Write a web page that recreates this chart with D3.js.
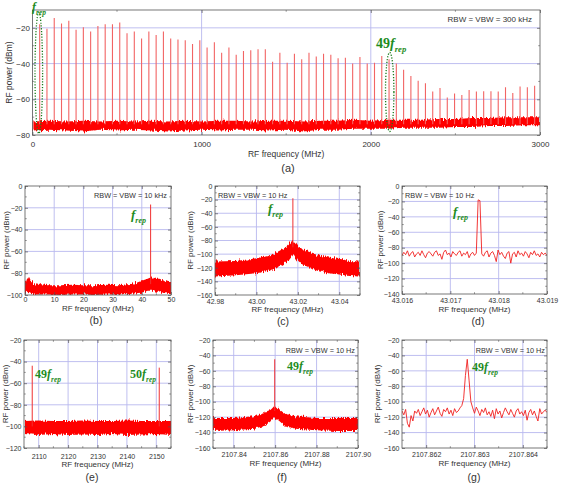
<!DOCTYPE html>
<html>
<head>
<meta charset="utf-8">
<script src="https://cdn.jsdelivr.net/npm/d3@7"></script>
<style>
body { margin: 0; background: #fff; }
text { font-family: "Liberation Sans", Arial, sans-serif; fill: #333; }
</style>
</head>
<body>
<div id="fig"></div>
<script>
/***** data *****/
var fRep = 43.0176; // MHz

// (a) harmonic peak levels, n = 1..69 (dBm)
var aPeaks = [-18, -20.5, -14.5, -17.6, -16, -21, -19.6, -22, -19, -18,
  -18, -17, -23, -22, -26, -22, -24, -22, -26, -26.5,
  -27, -29, -27, -31, -28, -34, -31, -35, -33, -32.5,
  -32, -32, -39, -34, -39.5, -34.5, -37.6, -34, -36, -34.5,
  -35, -37, -36.7, -40, -36.3, -40, -39.5, -35.7, -37.6, -40,
  -43.5, -47, -49.6, -51, -55.7, -53.7, -59, -56.7, -57.6, -54.8,
  -55.7, -55.5, -55.5, -55.7, -53.3, -56.5, -52.8, -53.3, -52.4];
var aNoiseF = [0, 100, 200, 300, 400, 500, 600, 700, 800, 900, 1000, 1100, 1200, 1300, 1400, 1500,
  1600, 1700, 1800, 1900, 2000, 2100, 2200, 2300, 2400, 2500, 2600, 2700, 2800, 2900, 3000];
var aNoiseHi = [-72.5, -72, -72.5, -72, -72.5, -72, -72.5, -72, -72.5, -72, -72.5, -72, -72, -72.5, -72, -72,
  -72.5, -72, -72, -71.5, -72, -71.5, -71.5, -71.5, -71, -71, -70.5, -70.5, -70, -70, -70];
var aNoiseLo = [-77.5, -77, -77.5, -78, -77, -77.5, -77, -77.5, -78, -77.5, -77, -77.5, -77, -77, -77.5, -77,
  -78, -77, -77, -76.5, -76.5, -76.5, -76, -76, -76, -75.5, -75.5, -75, -75, -74.5, -74.5];

// (b) 0-50 MHz span
var bNoiseF = [0, 0.5, 1, 1.5, 2, 3, 5, 8, 12, 16, 20, 24, 28, 32, 36, 38, 40, 41, 42, 43, 44, 45, 46, 47, 48, 49, 50];
var bNoiseHi = [-88, -84, -82, -84, -87, -89, -90, -91, -91, -90.5, -91, -91, -90.5, -91, -90, -89, -87, -86,
  -85, -84, -84, -85, -85, -86, -87, -88, -88];
var bNoiseLo = [-99, -98, -97, -98, -99, -99.5, -99.5, -99.5, -100, -99.5, -99.5, -100, -99.5, -99.5, -99, -98.5,
  -98, -97, -96, -96, -96, -97, -97, -98, -98.5, -99, -99];
var bPeak = [43.02, -17];

// (c) zoom on f_rep
var cNoiseF = [42.98, 42.99, 43.00, 43.005, 43.01, 43.013, 43.015, 43.016, 43.017, 43.0176, 43.0185, 43.02,
  43.022, 43.025, 43.03, 43.035, 43.04, 43.045, 43.05];
var cNoiseHi = [-111, -110, -106, -103, -97, -92, -88, -85, -81, -79, -82, -88, -92, -96, -102, -105, -107, -110, -111];
var cNoiseLo = [-133, -131, -128, -125, -120, -115, -111, -108, -104, -101, -105, -111, -115, -119, -125, -128, -130, -132, -133];
var cPeak = [43.0176, -18];

// (d) trace, 81 points from 43.016 MHz
var dStart = 43.016, dStep = 0.0000375;
var dVals = [-90, -86, -89, -84, -91, -87, -85, -92, -88, -86,
  -90, -84, -89, -93, -87, -85, -88, -91, -86, -84,
  -90, -88, -95, -86, -83, -89, -87, -92, -85, -88,
  -90, -86, -84, -91, -87, -89, -85, -93, -88, -86,
  -90, -87, -18, -19, -88, -91, -86, -84, -92, -87,
  -85, -90, -98, -83, -89, -86, -91, -94, -87, -85,
  -100, -88, -86, -92, -84, -89, -87, -91, -85, -88,
  -93, -86, -89, -84, -90, -88, -92, -86, -89, -87,
  -90];

// (e) 49th and 50th harmonics
var eNoiseF = [2105, 2110, 2115, 2120, 2125, 2130, 2135, 2140, 2145, 2150, 2155];
var eNoiseHi = [-95, -94.5, -95, -95, -94.5, -95, -95, -94.5, -95, -95, -95];
var eNoiseLo = [-107, -108, -107, -108, -107.5, -108, -107, -108, -107.5, -107, -108];
var ePeaks = [[2107.8, -43.8], [2151, -45.6]];

// (f) zoom on 49 f_rep
var fNoiseF = [2107.83, 2107.84, 2107.85, 2107.855, 2107.858, 2107.8598, 2107.862, 2107.865, 2107.87, 2107.88, 2107.89, 2107.90];
var fNoiseHi = [-121, -121, -119, -115, -110, -105, -110, -116, -119, -121, -121, -121];
var fNoiseLo = [-138, -137, -135, -131, -125, -120, -125, -132, -135, -137, -138, -138];
var fPeak = [2107.8598, -45];

// (g) trace, 81 points from 2107.8615 MHz
var gStart = 2107.8615, gStep = 0.0000375;
var gVals = [-112, -117, -110, -128, -133, -118, -125, -112, -115, -110,
  -118, -113, -108, -116, -111, -120, -114, -109, -117, -112,
  -107, -115, -119, -110, -113, -108, -116, -111, -118, -109,
  -114, -112, -108, -105, -96, -66, -45, -72, -100, -108,
  -115, -107, -112, -118, -110, -114, -108, -117, -113, -119,
  -111, -122, -109, -116, -112, -121, -114, -108, -113, -117,
  -110, -115, -120, -112, -109, -116, -113, -118, -111, -124,
  -114, -110, -117, -112, -119, -125, -109, -116, -113, -111,
  -114];

/***** drawing *****/
var RED = "#ff0000", GRID = "#b8b8ee", FRAME = "#555", GREEN = "#1e8c1e";

var svg = d3.select("#fig").append("svg")
  .attr("width", 562)
  .attr("height", 486);

var defs = svg.append("defs");
var flt = defs.append("filter").attr("id", "jag")
  .attr("x", "-2%").attr("y", "-60%").attr("width", "104%").attr("height", "220%");
flt.append("feTurbulence").attr("type", "fractalNoise").attr("baseFrequency", "0.9 0.04")
  .attr("numOctaves", 2).attr("seed", 4).attr("result", "t");
flt.append("feDisplacementMap").attr("in", "SourceGraphic").attr("in2", "t")
  .attr("scale", 6).attr("xChannelSelector", "G").attr("yChannelSelector", "R");

function zipBand(fs, lo, hi) {
  return fs.map(function(f, i) { return {f: f, lo: lo[i], hi: hi[i]}; });
}
function zipTrace(start, step, vals) {
  return vals.map(function(v, i) { return {f: start + i * step, v: v}; });
}

function greenLabel(x, y, pre, size) {
  var t = svg.append("text")
    .attr("x", x).attr("y", y)
    .style("font-family", "'Liberation Serif', 'Times New Roman', serif")
    .style("font-weight", "bold")
    .style("font-size", size + "px")
    .style("fill", GREEN);
  if (pre) t.append("tspan").text(pre).style("fill", GREEN);
  t.append("tspan").text("f").style("font-style", "italic").style("fill", GREEN);
  t.append("tspan").text("rep").attr("dy", size * 0.3)
    .style("font-style", "italic").style("font-size", (size * 0.62) + "px").style("fill", GREEN);
}

function drawPanel(p, id) {
  var x = d3.scaleLinear().domain(p.xd).range([p.l, p.r]);
  var y = d3.scaleLinear().domain(p.yd).range([p.b, p.t]);
  var g = svg.append("g");

  defs.append("clipPath").attr("id", "clip" + id)
    .append("rect").attr("x", p.l).attr("y", p.t).attr("width", p.r - p.l).attr("height", p.b - p.t);

  // grid
  g.selectAll(".gx").data(p.gx).join("line")
    .attr("x1", d => x(d)).attr("x2", d => x(d)).attr("y1", p.t).attr("y2", p.b)
    .attr("stroke", GRID).attr("stroke-width", 0.9);
  g.selectAll(".gy").data(p.gy).join("line")
    .attr("x1", p.l).attr("x2", p.r).attr("y1", d => y(d)).attr("y2", d => y(d))
    .attr("stroke", GRID).attr("stroke-width", 0.9);

  var plot = g.append("g").attr("clip-path", "url(#clip" + id + ")");

  if (p.band) {
    var area = d3.area().x(d => x(d.f)).y0(d => y(d.lo)).y1(d => y(d.hi));
    plot.append("path").datum(p.band)
      .attr("d", area).attr("fill", RED).attr("filter", "url(#jag)");
  }
  if (p.trace) {
    var line = d3.line().x(d => x(d.f)).y(d => y(d.v));
    plot.append("path").datum(p.trace)
      .attr("d", line).attr("fill", "none").attr("stroke", "#f02020").attr("stroke-width", 0.9);
  }
  if (p.peaks) {
    plot.selectAll(".pk").data(p.peaks).join("line")
      .attr("x1", d => x(d[0])).attr("x2", d => x(d[0]))
      .attr("y1", y(p.peakBase)).attr("y2", d => y(d[1]))
      .attr("stroke", p.peakColor || "#f03030").attr("stroke-width", p.peakWidth || 1);
  }

  // frame
  g.append("rect").attr("x", p.l).attr("y", p.t).attr("width", p.r - p.l).attr("height", p.b - p.t)
    .attr("fill", "none").attr("stroke", FRAME).attr("stroke-width", 0.8);

  // axes, ticks pointing inward
  function styleAxis(sel, fs) {
    sel.select(".domain").remove();
    sel.selectAll("line").attr("stroke", FRAME).attr("stroke-width", 0.7);
    sel.selectAll("text").style("font-size", fs + "px").style("fill", "#333")
      .style("font-family", "'Liberation Sans', Arial, sans-serif");
  }
  var xa = g.append("g").attr("transform", "translate(0," + p.b + ")")
    .call(d3.axisBottom(x).tickValues(p.xt).tickFormat(d3.format(p.xf))
      .tickSizeInner(-3).tickSizeOuter(0).tickPadding(p.xpad));
  styleAxis(xa, p.fs);
  var ya = g.append("g").attr("transform", "translate(" + p.l + ",0)")
    .call(d3.axisLeft(y).tickValues(p.yt).tickFormat(d3.format("d"))
      .tickSizeInner(-3).tickSizeOuter(0).tickPadding(2.5));
  styleAxis(ya, p.fs);
  var xt2 = g.append("g").attr("transform", "translate(0," + p.t + ")")
    .call(d3.axisTop(x).tickValues(p.xt).tickFormat("").tickSizeInner(-3).tickSizeOuter(0));
  styleAxis(xt2, p.fs);
  var yr = g.append("g").attr("transform", "translate(" + p.r + ",0)")
    .call(d3.axisRight(y).tickValues(p.yt).tickFormat("").tickSizeInner(-3).tickSizeOuter(0));
  styleAxis(yr, p.fs);
  // minor ticks
  [["b", p.b, p.xm], ["t", p.t, p.xm]].forEach(function(s) {
    if (!s[2]) return;
    g.selectAll(null).data(s[2]).join("line")
      .attr("x1", d => x(d)).attr("x2", d => x(d))
      .attr("y1", s[1]).attr("y2", s[0] === "b" ? s[1] - 1.8 : s[1] + 1.8)
      .attr("stroke", FRAME).attr("stroke-width", 0.6);
  });
  [[p.l, 1], [p.r, -1]].forEach(function(s) {
    if (!p.ym) return;
    g.selectAll(null).data(p.ym).join("line")
      .attr("x1", s[0]).attr("x2", s[0] + 1.8 * s[1])
      .attr("y1", d => y(d)).attr("y2", d => y(d))
      .attr("stroke", FRAME).attr("stroke-width", 0.6);
  });

  // titles
  g.append("text").attr("x", (p.l + p.r) / 2).attr("y", p.xtY)
    .attr("text-anchor", "middle").style("font-size", p.ts + "px").text("RF frequency (MHz)");
  g.append("text").attr("transform", "translate(" + p.ytX + "," + ((p.t + p.b) / 2) + ") rotate(-90)")
    .attr("text-anchor", "middle").attr("dy", "0.35em").style("font-size", p.ts + "px").text(p.yTitle);
  g.append("text").attr("x", p.tagX).attr("y", p.tagY)
    .attr("text-anchor", "middle").style("font-size", p.tagS + "px").text(p.tag);
  if (p.rbw) {
    g.append("text").attr("x", p.rbw[0]).attr("y", p.rbw[1]).attr("text-anchor", p.rbw[2])
      .style("font-size", p.rbw[3] + "px").text(p.rbw[4]);
  }
}

function ticks(a, b, s) { return d3.range(a, b + s / 2, s); }

// (a)
drawPanel({
  l: 32.4, r: 540, t: 10, b: 135, xd: [0, 3000], yd: [-80, -10],
  xt: [0, 1000, 2000, 3000], xf: "d", xm: [500, 1500, 2500], yt: [-80, -60, -40, -20], ym: [-70, -50, -30],
  gx: [1000, 2000], gy: [-60, -40, -20],
  band: zipBand(aNoiseF, aNoiseLo, aNoiseHi),
  peaks: aPeaks.map(function(v, i) { return [(i + 1) * fRep, v]; }), peakBase: -74,
  peakColor: "#f26464", peakWidth: 1.1,
  fs: 8, ts: 8.5, xpad: 6.3, xtY: 157, ytX: 9, yTitle: "RF power (dBm)",
  tag: "(a)", tagX: 288, tagY: 172, tagS: 11,
  rbw: [532, 22, "end", 8, "RBW = VBW = 300 kHz"]
}, "a");

// (b)
drawPanel({
  l: 25, r: 171, t: 186, b: 295, xd: [0, 50], yd: [-100, 0],
  xt: ticks(0, 50, 10), xf: "d", xm: ticks(5, 45, 10), yt: ticks(-100, 0, 20), ym: ticks(-90, -10, 20),
  gx: [10, 20, 30, 40], gy: [-80, -60, -40, -20],
  band: zipBand(bNoiseF, bNoiseLo, bNoiseHi), peaks: [bPeak], peakBase: -90,
  fs: 7, ts: 8, xpad: 2.5, xtY: 311, ytX: 6, yTitle: "RF power (dBm)",
  tag: "(b)", tagX: 96, tagY: 324, tagS: 10.5,
  rbw: [167, 197.5, "end", 7.3, "RBW = VBW = 10 kHz"]
}, "b");

// (c)
drawPanel({
  l: 215, r: 360, t: 186, b: 295, xd: [42.98, 43.05], yd: [-160, 0],
  xt: [42.98, 43.00, 43.02, 43.04], xf: ".2f", xm: [42.99, 43.01, 43.03, 43.05], yt: ticks(-160, 0, 20), ym: ticks(-150, -10, 20),
  gx: [43.00, 43.02, 43.04], gy: ticks(-140, -20, 20),
  band: zipBand(cNoiseF, cNoiseLo, cNoiseHi), peaks: [cPeak], peakBase: -90,
  fs: 7, ts: 8, xpad: 3.8, xtY: 312, ytX: 190, yTitle: "RF power (dBm)",
  tag: "(c)", tagX: 283, tagY: 325, tagS: 10.5,
  rbw: [218, 197.5, "start", 7.3, "RBW = VBW = 10 Hz"]
}, "c");

// (d)
drawPanel({
  l: 402, r: 547, t: 186, b: 294, xd: [43.016, 43.019], yd: [-140, 0],
  xt: [43.016, 43.017, 43.018, 43.019], xf: ".3f", xm: [43.0165, 43.0175, 43.0185], yt: ticks(-140, 0, 20), ym: ticks(-130, -10, 20),
  gx: [43.017, 43.018], gy: ticks(-120, -20, 20),
  trace: zipTrace(dStart, dStep, dVals),
  fs: 7, ts: 8, xpad: 3.8, xtY: 312, ytX: 380, yTitle: "RF power (dBm)",
  tag: "(d)", tagX: 478, tagY: 325, tagS: 10.5,
  rbw: [405, 197.5, "start", 7.3, "RBW = VBW = 10 Hz"]
}, "d");

// (e)
drawPanel({
  l: 24, r: 171, t: 340, b: 448, xd: [2105, 2155], yd: [-120, -20],
  xt: ticks(2110, 2150, 10), xf: "d", xm: ticks(2105, 2155, 10), yt: ticks(-120, -20, 20), ym: ticks(-110, -30, 20),
  gx: ticks(2110, 2150, 10), gy: ticks(-100, -40, 20),
  band: zipBand(eNoiseF, eNoiseLo, eNoiseHi), peaks: ePeaks, peakBase: -100,
  fs: 7, ts: 8, xpad: 6, xtY: 467, ytX: 5, yTitle: "RF power (dBm)",
  tag: "(e)", tagX: 92, tagY: 481, tagS: 10.5
}, "e");

// (f)
drawPanel({
  l: 213, r: 358, t: 340, b: 448, xd: [2107.83, 2107.90], yd: [-160, -20],
  xt: [2107.84, 2107.86, 2107.88, 2107.90], xf: ".2f", xm: [2107.83, 2107.85, 2107.87, 2107.89], yt: ticks(-160, -20, 20), ym: ticks(-150, -30, 20),
  gx: [2107.84, 2107.86, 2107.88], gy: ticks(-140, -40, 20),
  band: zipBand(fNoiseF, fNoiseLo, fNoiseHi), peaks: [fPeak], peakBase: -112,
  fs: 7, ts: 8, xpad: 3.8, xtY: 466, ytX: 190, yTitle: "RF power (dBM)",
  tag: "(f)", tagX: 282, tagY: 481, tagS: 10.5,
  rbw: [355, 352.5, "end", 7.3, "RBW = VBW = 10 Hz"]
}, "f");

// (g)
drawPanel({
  l: 402, r: 547, t: 340, b: 448, xd: [2107.8615, 2107.8645], yd: [-160, -20],
  xt: [2107.862, 2107.863, 2107.864], xf: ".3f", xm: [2107.8625, 2107.8635, 2107.8645], yt: ticks(-160, -20, 20), ym: ticks(-150, -30, 20),
  gx: [2107.862, 2107.863, 2107.864], gy: ticks(-140, -40, 20),
  trace: zipTrace(gStart, gStep, gVals),
  fs: 7, ts: 8, xpad: 3.8, xtY: 466, ytX: 377, yTitle: "RF power (dBM)",
  tag: "(g)", tagX: 474, tagY: 481, tagS: 10.5,
  rbw: [545, 352.5, "end", 7.3, "RBW = VBW = 10 Hz"]
}, "g");

// green dotted markers in (a)
var ellipses = [[38.8, 73, 3.8, 60.5], [389.7, 92, 4.2, 39.5]];
svg.selectAll(".ell").data(ellipses).join("ellipse")
  .attr("cx", d => d[0]).attr("cy", d => d[1]).attr("rx", d => d[2]).attr("ry", d => d[3])
  .attr("fill", "none").attr("stroke", "#1a7a1a").attr("stroke-width", 1.3).attr("stroke-dasharray", "1.2,1.6");

// green labels
greenLabel(32, 11, "", 12);
greenLabel(376, 48, "49", 14);
greenLabel(131, 219, "", 13);
greenLabel(268, 213, "", 13);
greenLabel(453, 216, "", 13);
greenLabel(35, 378, "49", 12);
greenLabel(130, 378, "50", 12);
greenLabel(287, 370, "49", 12);
greenLabel(472, 371, "49", 12);
</script>
</body>
</html>
